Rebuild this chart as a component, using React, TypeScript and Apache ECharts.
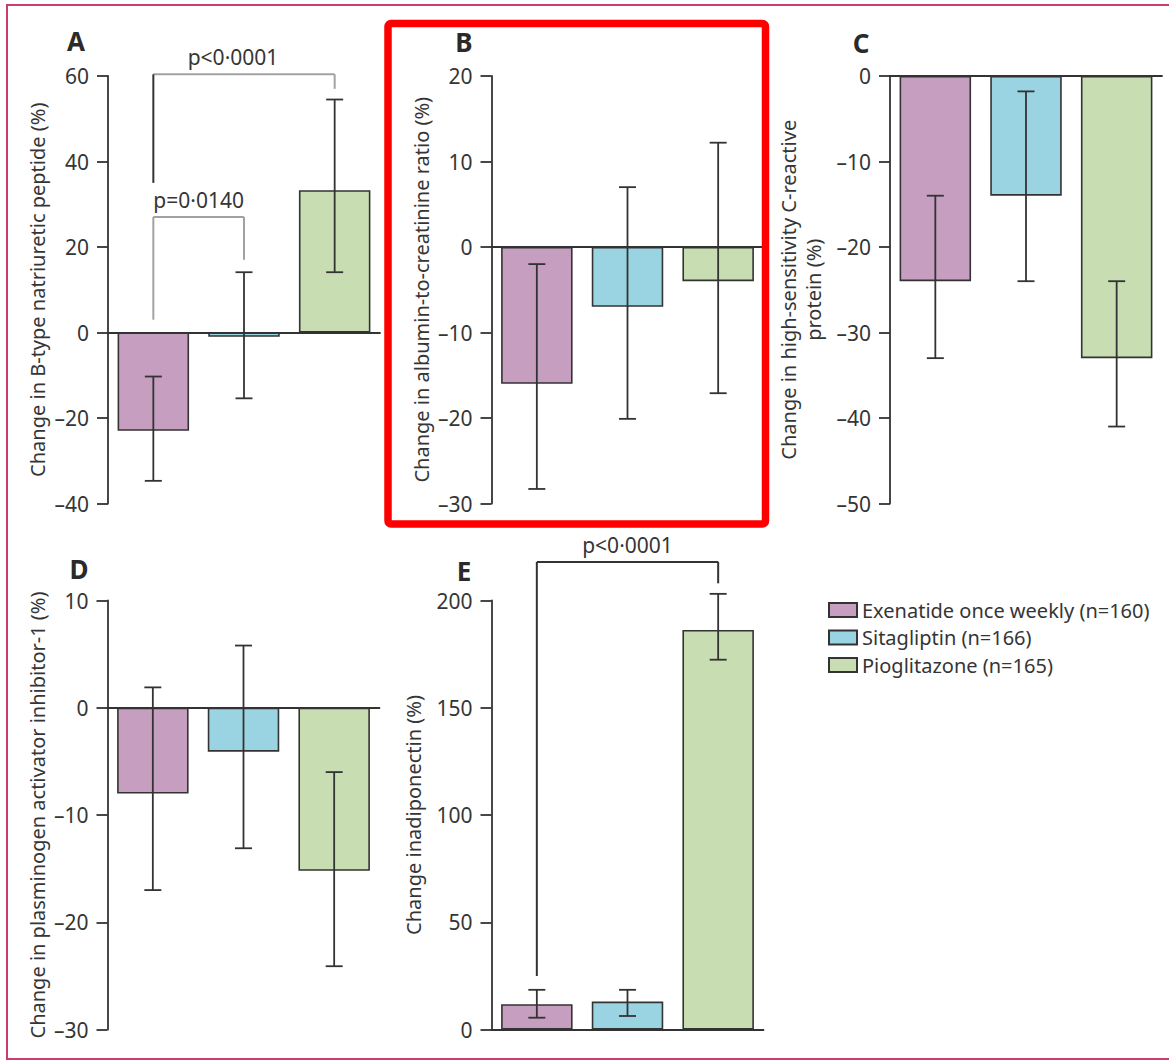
import React, { useEffect, useRef } from 'react';
import * as echarts from 'echarts';

// ---------- data ----------
const drugs = ['Exenatide once weekly (n=160)', 'Sitagliptin (n=166)', 'Pioglitazone (n=165)'];
const drugColors = ['#c59ec0', '#9ad4e3', '#c8deb2'];

const panelLetters = ['A', 'B', 'C', 'D', 'E'];
const axisTitles = [
  'Change in B-type natriuretic peptide (%)',
  'Change in albumin-to-creatinine ratio (%)',
  'Change in high-sensitivity C-reactive\nprotein (%)',
  'Change in plasminogen activator inhibitor-1 (%)',
  'Change inadiponectin (%)',
];

// values per panel, order: Exenatide, Sitagliptin, Pioglitazone
const bnpMeans = [-23, -1, 33.3];
const bnpLow = [-34.7, -15.4, 14.1];
const bnpHigh = [-10.3, 14.1, 54.5];

const acrMeans = [-16, -7, -4];
const acrLow = [-28.3, -20.1, -17.1];
const acrHigh = [-2, 7, 12.2];

const crpMeans = [-24, -14, -33];
const crpLow = [-33, -24, -41];
const crpHigh = [-14, -1.8, -24];

const paiMeans = [-8, -4.1, -15.2];
const paiLow = [-17, -13.1, -24.1];
const paiHigh = [1.9, 5.8, -6];

const adipoMeans = [11.8, 13, 186.3];
const adipoLow = [5.5, 6.3, 172.4];
const adipoHigh = [18.5, 18.5, 203.1];

const panelMeans = [bnpMeans, acrMeans, crpMeans, paiMeans, adipoMeans];
const panelLow = [bnpLow, acrLow, crpLow, paiLow, adipoLow];
const panelHigh = [bnpHigh, acrHigh, crpHigh, paiHigh, adipoHigh];

const axisMin = [-40, -30, -50, -30, 0];
const axisMax = [60, 20, 0, 10, 200];
const axisStep = [20, 10, 10, 10, 50];

// significance brackets
const bracketPanel = [0, 0, 4];
const bracketFrom = [0, 0, 0];
const bracketTo = [2, 1, 2];
const bracketLevel = [60.4, 27, 218];
const bracketLeftEnd = [35, 3, 25];
const bracketRightEnd = [57, 17, 208];
const bracketLabel = ['p<0·0001', 'p=0·0140', 'p<0·0001'];

// ---------- layout / style ----------
const FONT = 'Noto Sans';
const TEXT = '#353535';
const AXIS = '#333333';
const GRAY = '#a2a2a2';

const grids = [
  { left: 108, top: 76, width: 272, height: 427.5 },
  { left: 491.5, top: 76, width: 272, height: 427.5 },
  { left: 890, top: 76, width: 272, height: 427.5 },
  { left: 107.5, top: 600.5, width: 272, height: 429 },
  { left: 491.5, top: 600.5, width: 272, height: 429 },
];
const nameGaps = [58, 57, 64, 58, 66];
const letterPos = [
  [76, 41],
  [464, 42],
  [861, 43],
  [79, 569],
  [464, 570.5],
];
const bracketLegColor = [AXIS, GRAY, AXIS];
const bracketLineColor = [GRAY, GRAY, AXIS];
const bracketLabelDx = [-11, 0, 0];

export default function App() {
  const ref = useRef<HTMLDivElement>(null);

  useEffect(() => {
    document.body.style.margin = '0';
    const chart = echarts.init(ref.current!, null, { renderer: 'svg' });

    const xAxis = grids.map((_, i) => ({
      type: 'category',
      gridIndex: i,
      data: drugs,
      axisLine: { show: true, onZero: true, lineStyle: { color: AXIS, width: 1.8 } },
      axisTick: { show: false },
      axisLabel: { show: false },
      splitLine: { show: false },
    }));

    const yAxis = grids.map((_, i) => ({
      type: 'value',
      gridIndex: i,
      min: axisMin[i],
      max: axisMax[i],
      interval: axisStep[i],
      axisLine: { show: true, lineStyle: { color: AXIS, width: 1.8 } },
      axisTick: { show: true, length: 11, lineStyle: { color: AXIS, width: 1.8 } },
      axisLabel: {
        margin: 19,
        fontSize: 21,
        fontFamily: FONT,
        color: TEXT,
        formatter: (v: number) => String(v).replace('-', '–'),
      },
      splitLine: { show: false },
      name: axisTitles[i],
      nameLocation: 'middle',
      nameGap: nameGaps[i],
      nameTextStyle: { fontSize: 20, fontFamily: FONT, color: TEXT, lineHeight: 25 },
    }));

    const series: any[] = [];
    panelMeans.forEach((means, p) => {
      drugs.forEach((name, d) => {
        series.push({
          type: 'bar',
          name,
          xAxisIndex: p,
          yAxisIndex: p,
          barWidth: 71.5,
          barGap: '-100%',
          data: means.map((v, k) => (k === d ? v : '-')),
          itemStyle: { color: drugColors[d], borderColor: AXIS, borderWidth: 1.6 },
          z: 2,
        });
      });
      series.push({
        type: 'custom',
        xAxisIndex: p,
        yAxisIndex: p,
        z: 5,
        clip: false,
        data: means.map((_, k) => [k, panelLow[p][k], panelHigh[p][k]]),
        renderItem: (params: any, api: any) => {
          const c = api.value(0);
          const top = api.coord([c, api.value(2)]);
          const bot = api.coord([c, api.value(1)]);
          const x = top[0];
          const hw = 8.5;
          const st = { stroke: AXIS, lineWidth: 1.8 };
          return {
            type: 'group',
            children: [
              { type: 'line', shape: { x1: x, y1: top[1], x2: x, y2: bot[1] }, style: st },
              { type: 'line', shape: { x1: x - hw, y1: top[1], x2: x + hw, y2: top[1] }, style: st },
              { type: 'line', shape: { x1: x - hw, y1: bot[1], x2: x + hw, y2: bot[1] }, style: st },
            ],
          };
        },
      });
    });

    bracketPanel.forEach((p, b) => {
      series.push({
        type: 'custom',
        xAxisIndex: p,
        yAxisIndex: p,
        z: 6,
        clip: false,
        data: [[bracketFrom[b], bracketTo[b], bracketLevel[b], bracketLeftEnd[b], bracketRightEnd[b]]],
        renderItem: (params: any, api: any) => {
          const a = api.coord([api.value(0), api.value(2)]);
          const c = api.coord([api.value(1), api.value(2)]);
          const l = api.coord([api.value(0), api.value(3)]);
          const r = api.coord([api.value(1), api.value(4)]);
          return {
            type: 'group',
            children: [
              { type: 'line', shape: { x1: a[0], y1: a[1], x2: c[0], y2: c[1] }, style: { stroke: bracketLineColor[b], lineWidth: 2 } },
              { type: 'line', shape: { x1: a[0], y1: a[1], x2: l[0], y2: l[1] }, style: { stroke: bracketLegColor[b], lineWidth: 2 } },
              { type: 'line', shape: { x1: c[0], y1: c[1], x2: r[0], y2: r[1] }, style: { stroke: bracketLineColor[b], lineWidth: 2 } },
              {
                type: 'text',
                x: (a[0] + c[0]) / 2 + bracketLabelDx[b],
                y: a[1] - 17,
                style: {
                  text: bracketLabel[b],
                  fontSize: 21,
                  fontFamily: FONT,
                  fill: TEXT,
                  align: 'center',
                  verticalAlign: 'middle',
                },
              },
            ],
          };
        },
      });
    });

    const graphic: any[] = [
      {
        type: 'rect',
        shape: { x: 7, y: 5, width: 1175, height: 1054 },
        style: { fill: 'none', stroke: '#c93d69', lineWidth: 2 },
        z: 0,
        silent: true,
      },
      ...panelLetters.map((t, i) => ({
        type: 'text',
        x: letterPos[i][0],
        y: letterPos[i][1],
        style: {
          text: t,
          fontSize: 26,
          fontWeight: 'bold',
          fontFamily: FONT,
          fill: '#2a2a2a',
          align: 'center',
          verticalAlign: 'middle',
        },
        z: 10,
      })),
      {
        type: 'rect',
        shape: { x: 388, y: 23.5, width: 377.5, height: 500.5, r: 3 },
        style: { fill: 'none', stroke: '#ff0000', lineWidth: 7.5 },
        z: 100,
        silent: true,
      },
    ];

    chart.setOption({
      animation: false,
      backgroundColor: '#ffffff',
      textStyle: { fontFamily: FONT },
      grid: grids.map((g) => ({ ...g, containLabel: false })),
      xAxis,
      yAxis,
      legend: {
        data: drugs,
        orient: 'vertical',
        left: 823,
        top: 595,
        itemWidth: 28,
        itemHeight: 14,
        itemGap: 7.5,
        icon: 'rect',
        selectedMode: false,
        textStyle: { fontSize: 20, fontFamily: FONT, color: TEXT },
      },
      graphic,
      series,
    });

    return () => chart.dispose();
  }, []);

  return (
    <div
      ref={ref}
      style={{ position: 'fixed', left: 0, top: 0, width: 1169, height: 1061, background: '#fff' }}
    />
  );
}
